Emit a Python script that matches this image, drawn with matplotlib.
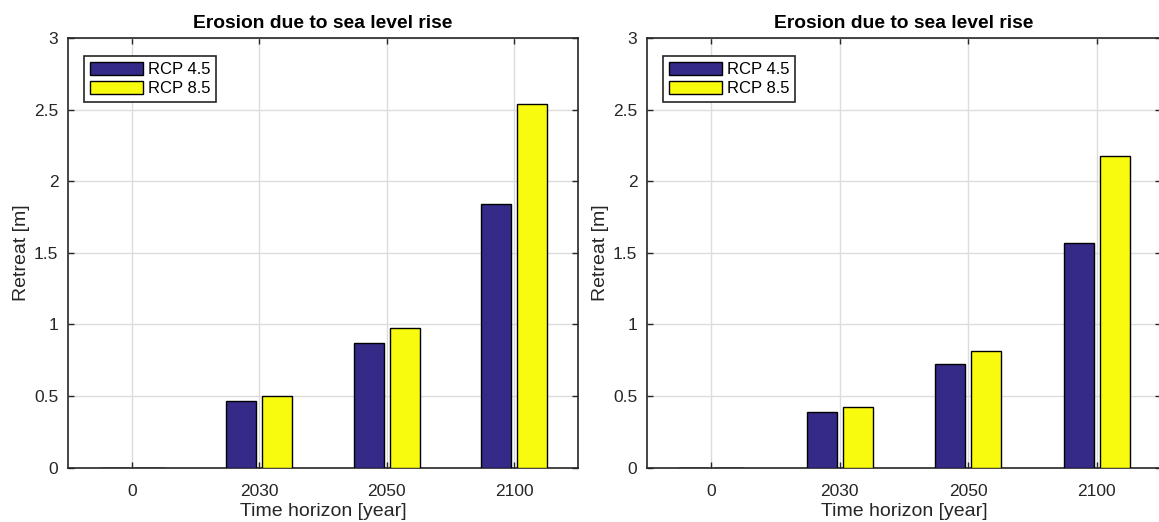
import numpy as np
import matplotlib
matplotlib.use('Agg')
import matplotlib.pyplot as plt

plt.rcParams['font.family'] = ['Liberation Sans', 'DejaVu Sans']

horizons = ['0', '2030', '2050', '2100']
series = ['RCP 4.5', 'RCP 8.5']
left_rcp45 = [0.0, 0.466, 0.87, 1.84]
left_rcp85 = [0.0, 0.50, 0.975, 2.54]
right_rcp45 = [0.0, 0.387, 0.723, 1.566]
right_rcp85 = [0.0, 0.421, 0.815, 2.178]

blue = '#352a87'
yellow = '#f9fb0e'

fig = plt.figure(figsize=(11.59, 5.22), dpi=100)
ax1 = fig.add_axes([68/1159, 1-467.5/522, 510/1159, 429.5/522])
ax2 = fig.add_axes([647/1159, 1-467.5/522, 514/1159, 429.5/522])

def draw(ax, a, b):
  x = np.arange(1, len(horizons) + 1)
  w = 0.235
  ax.bar(x - 0.14, a, w, color=blue, edgecolor='black', linewidth=1.0, label=series[0], zorder=3)
  ax.bar(x + 0.14, b, w, color=yellow, edgecolor='black', linewidth=1.0, label=series[1], zorder=3)
  ax.set_xlim(0.5, 4.5)
  ax.set_ylim(0, 3)
  ax.set_xticks(x)
  ax.set_xticklabels(horizons)
  ax.set_yticks([0, 0.5, 1, 1.5, 2, 2.5, 3])
  ax.set_yticklabels(['0', '0.5', '1', '1.5', '2', '2.5', '3'])
  ax.grid(True, color='#dcdcdc', linewidth=1.0, zorder=0)
  ax.set_axisbelow(True)
  ax.tick_params(direction='in', top=True, right=True, length=4, width=1,
                 colors='#262626', labelsize=12.5, labelcolor='#262626')
  ax.tick_params(axis='x', pad=12)
  ax.tick_params(axis='y', pad=7)
  for s in ax.spines.values():
    s.set_color('#262626')
    s.set_linewidth(1.2)
  ax.set_title('Erosion due to sea level rise', fontsize=13.9, fontweight='bold', pad=7)
  ax.set_xlabel('Time horizon [year]', fontsize=14, color='#262626', labelpad=3)
  ax.set_ylabel('Retreat [m]', fontsize=14, color='#262626', labelpad=3)
  leg = ax.legend(loc='upper left', bbox_to_anchor=(0.031, 0.958), fontsize=12,
                  handlelength=3.2, handleheight=0.85, handletextpad=0.3,
                  borderpad=0.35, labelspacing=0.2, fancybox=False, framealpha=1,
                  borderaxespad=0)
  leg.get_frame().set_edgecolor('#262626')
  leg.get_frame().set_linewidth(1.2)

draw(ax1, left_rcp45, left_rcp85)
draw(ax2, right_rcp45, right_rcp85)

fig.savefig('out.png', dpi=100)
